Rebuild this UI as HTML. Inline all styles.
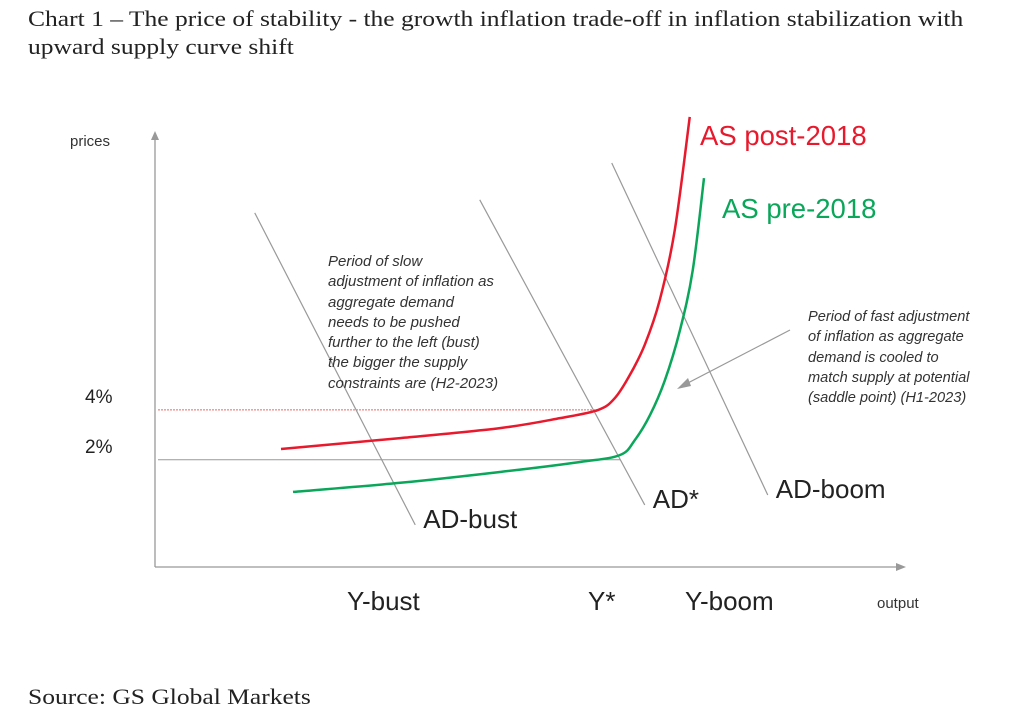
<!DOCTYPE html>
<html><head><meta charset="utf-8"><style>
body{margin:0;background:#fff;width:1024px;height:718px;overflow:hidden;position:relative;font-family:"Liberation Sans",sans-serif}
.t{position:absolute;white-space:nowrap}
.serif{font-family:"Liberation Serif",serif;font-size:22px;color:#222;transform-origin:0 0;transform:scaleX(1.16)}
.note{font-style:italic;font-size:15px;line-height:20.3px;color:#333}
</style></head><body>
<div class="t serif" style="left:28px;top:5px;line-height:28px">Chart 1 – The price of stability - the growth inflation trade-off in inflation stabilization with<br>upward supply curve shift</div>
<div class="t serif" style="left:28px;top:684px">Source: GS Global Markets</div>
<svg width="1024" height="718" style="position:absolute;left:0;top:0" id="chart"></svg>
<div class="t note" style="left:328px;top:252px">Period of slow<br>adjustment of inflation as<br>aggregate demand<br>needs to be pushed<br>further to the left (bust)<br>the bigger the supply<br>constraints are (H2-2023)</div>
<div class="t note" style="left:808px;top:307px;font-size:14.6px">Period of fast adjustment<br>of inflation as aggregate<br>demand is cooled to<br>match supply at potential<br>(saddle point) (H1-2023)</div>
<script>
const redX=[16.8,32.7,46,54,59.1,61.3,63.3,65.3,67.3,69.3,71.3];
const redY=[27.2,29.7,32,34.3,36.2,38.9,44.2,51.2,61.5,77.6,103.7];
const greenX=[18.4,32.7,46,56.7,62,64,66,68,70,71.7,73.2];
const greenY=[17.3,19.4,21.9,24.2,25.8,29.3,35,43.1,54.6,68.4,89.6];
const adNames=["AD-bust","AD*","AD-boom"];
const adX1=[13.3,43.3,60.9], adY1=[81.6,84.6,93.1], adX2=[34.7,65.3,81.7], adY2=[9.7,14.3,16.6];
const refY=[36.2,24.7], refXEnd=[59.1,62], refLabels=["4%","2%"];
const sx=v=>155+v*7.5, sy=v=>567-v*4.34;
const svg=document.getElementById('chart'), NS="http://www.w3.org/2000/svg";
function mk(tag,a,txt){const e=document.createElementNS(NS,tag);for(const k in a)e.setAttribute(k,a[k]);if(txt)e.textContent=txt;svg.appendChild(e);return e;}
function smooth(X,Y){const p=X.map((x,i)=>[sx(x),sy(Y[i])]);let d='M'+p[0][0]+','+p[0][1];
 for(let i=0;i<p.length-1;i++){const p0=p[Math.max(0,i-1)],p1=p[i],p2=p[i+1],p3=p[Math.min(p.length-1,i+2)];
 d+=' C'+(p1[0]+(p2[0]-p0[0])/6)+','+(p1[1]+(p2[1]-p0[1])/6)+' '+(p2[0]-(p3[0]-p1[0])/6)+','+(p2[1]-(p3[1]-p1[1])/6)+' '+p2[0]+','+p2[1];}
 return d;}
let e;
e=mk('line',{x1:155,y1:567,x2:155,y2:138,stroke:'#999','stroke-width':1.3});


e=mk('polygon',{points:'151,140 159,140 155,131',fill:'#999'});


e=mk('line',{x1:155,y1:567,x2:898,y2:567,stroke:'#999','stroke-width':1.3});


e=mk('polygon',{points:'896,563 896,571 906,567',fill:'#999'});


refY.forEach((v,i)=>{
 e=mk('line',{x1:158,y1:sy(v),x2:sx(refXEnd[i]),y2:sy(v),stroke:i==0?'#e66':'#999','stroke-width':1,'stroke-dasharray':i==0?'2,1':''});
 
 
 e=mk('text',{x:85,y:sy(v)-7,'font-size':19,fill:'#222'},refLabels[i]);
 
 
});
adNames.forEach((n,i)=>{
 e=mk('line',{x1:sx(adX1[i]),y1:sy(adY1[i]),x2:sx(adX2[i]),y2:sy(adY2[i]),stroke:'#999','stroke-width':1.2});
 
 
 e=mk('text',{x:sx(adX2[i])+8,y:sy(adY2[i])+3,'font-size':26,fill:'#222'},n);
 
 
});
e=mk('path',{d:smooth(redX,redY),fill:'none',stroke:'#e8192c','stroke-width':2.5});


e=mk('path',{d:smooth(greenX,greenY),fill:'none',stroke:'#0aa65a','stroke-width':2.5});


e=mk('text',{x:700,y:145,'font-size':27.5,fill:'#e8192c'},'AS post-2018');


e=mk('text',{x:722,y:218,'font-size':27.5,fill:'#0aa65a'},'AS pre-2018');


e=mk('line',{x1:790,y1:330,x2:684,y2:385,stroke:'#999','stroke-width':1.2});


e=mk('polygon',{points:'677,389 688,378 691,386',fill:'#999'});


e=mk('text',{x:70,y:146,'font-size':15,fill:'#333'},'prices');


e=mk('text',{x:877,y:608,'font-size':15,fill:'#333'},'output');


const yl=[["Y-bust",347],["Y*",588],["Y-boom",685]];
yl.forEach(([t,x],i)=>{
 e=mk('text',{x:x,y:610,'font-size':26,fill:'#222'},t);
 
 
});
</script>
</body></html>
